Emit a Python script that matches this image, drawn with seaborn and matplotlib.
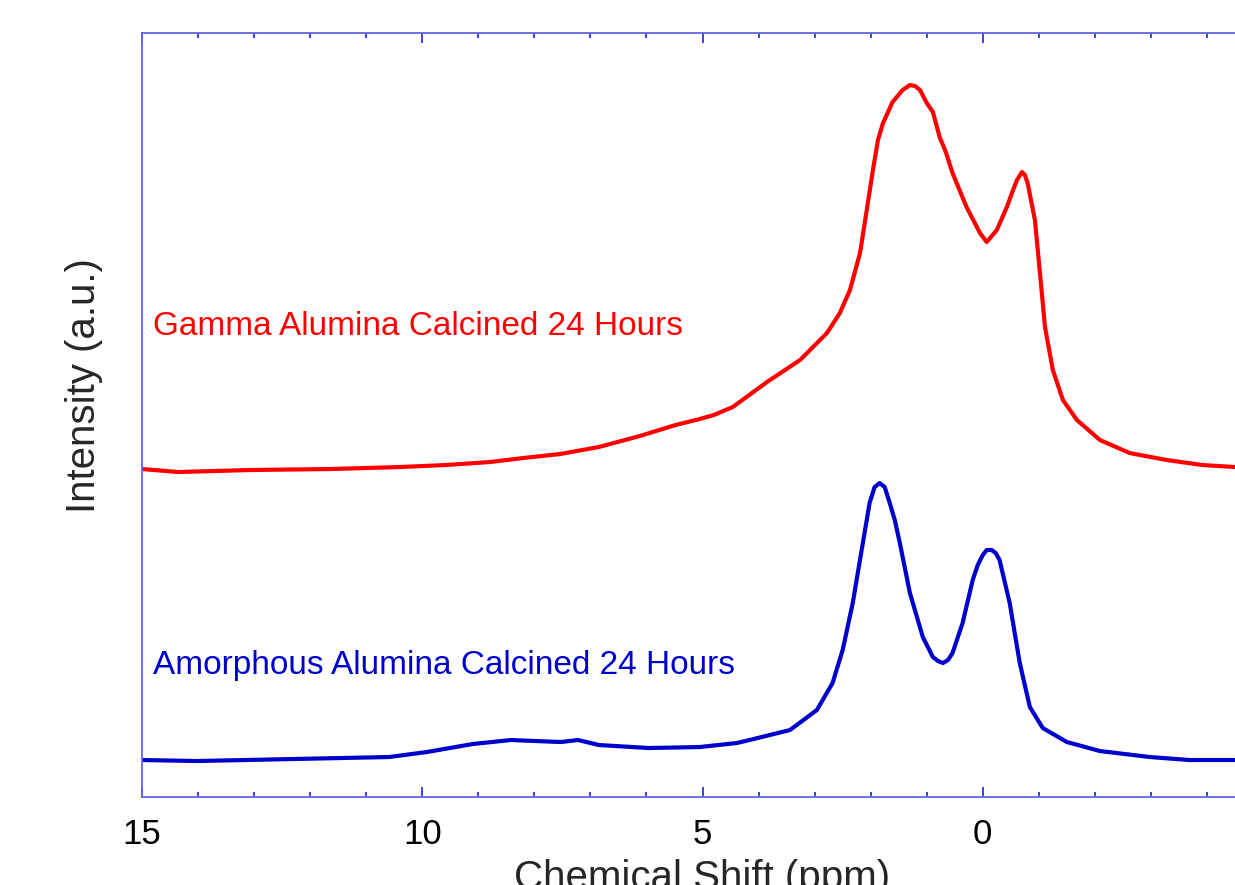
import matplotlib
matplotlib.use("Agg")
import matplotlib.pyplot as plt
from matplotlib.ticker import MultipleLocator
import seaborn as sns
import pandas as pd

# chemical shift (ppm) and intensity (a.u.)
gamma_ppm = [15.0, 14.36, 13.07, 11.63, 10.40, 9.58, 8.79, 8.20, 7.54, 6.85,
             6.12, 5.48, 5.05, 4.80, 4.46, 3.85, 3.26, 2.78, 2.55, 2.37,
             2.19, 2.07, 1.96, 1.87, 1.78, 1.69, 1.61, 1.43, 1.30, 1.21, 1.12,
             1.00, 0.89, 0.77, 0.66, 0.54,
             0.29, 0.05, -0.07, -0.25, -0.43, -0.52, -0.61, -0.70, -0.75, -0.80,
             -0.93, -1.02,
             -1.11, -1.25, -1.43, -1.68, -2.09, -2.62, -3.28, -3.92, -4.49]
gamma_int = [328, 325, 327, 328, 330, 332, 335, 339, 343, 350,
             361, 372, 378, 382, 390, 415, 437, 464, 484, 507,
             544, 587, 627, 657, 674, 685, 695, 707, 712, 711, 707,
             694, 685, 660, 645, 624,
             590, 564, 555, 567, 590, 604, 617, 625, 622, 614,
             577, 524,
             470, 427, 397, 377, 357, 344, 337, 332, 330]

amorph_ppm = [15.0, 14.02, 12.31, 10.59, 9.92, 9.10, 8.42, 7.53, 7.22, 6.85,
              5.96, 5.05, 4.39, 4.16, 3.44, 2.96, 2.68, 2.50, 2.32, 2.14,
              2.07, 2.02, 1.93, 1.84, 1.75, 1.66, 1.57, 1.48, 1.30, 1.07,
              0.89, 0.80, 0.71, 0.62, 0.54, 0.36,
              0.18, 0.09, 0.00, -0.07, -0.16, -0.23, -0.30, -0.48, -0.66,
              -0.84, -1.07, -1.50, -2.09,
              -2.98, -3.69, -4.49]
amorph_int = [37, 36, 38, 40, 45, 53, 57, 55, 57, 52,
              49, 50, 54, 57, 67, 87, 114, 147, 194, 254,
              277, 294, 310, 314, 310, 294, 277, 254, 204, 160,
              140, 136, 134, 137, 144, 174,
              217, 232, 242, 247, 247, 244, 237, 194, 134,
              90, 69, 55, 46,
              40, 37, 37]

gamma_label = "Gamma Alumina Calcined 24 Hours"
amorph_label = "Amorphous Alumina Calcined 24 Hours"
xticks = [15, 10, 5, 0]

sns.set_style("white")
plt.rcParams["font.family"] = ["Liberation Sans", "DejaVu Sans"]

red = "#ff0000"
blue = "#0000cc"
spine_col = "#6464e6"

df_g = pd.DataFrame({"ppm": gamma_ppm, "intensity": gamma_int})
df_a = pd.DataFrame({"ppm": amorph_ppm, "intensity": amorph_int})

fig = plt.figure(figsize=(12.35, 8.85), dpi=100)
ax = fig.add_axes([0.115, 0.0994, 0.9077, 0.8633])

sns.lineplot(data=df_g, x="ppm", y="intensity", sort=False, color=red,
             linewidth=3.0, solid_joinstyle="round", ax=ax)
sns.lineplot(data=df_a, x="ppm", y="intensity", sort=False, color=blue,
             linewidth=3.0, solid_joinstyle="round", ax=ax)

ax.set_xlim(15, -5)
ax.set_ylim(0, 764)
ax.set_xticks(xticks)
ax.xaxis.set_minor_locator(MultipleLocator(1))
ax.set_yticks([])

ax.tick_params(axis="x", which="both", direction="in", top=True, bottom=True,
               colors="#2020e0", labelcolor="black", labelsize=25, pad=15)
ax.tick_params(axis="x", which="major", length=7.2, width=1.2)
ax.tick_params(axis="x", which="minor", length=3.6, width=1.2)

for s in ax.spines.values():
    s.set_color(spine_col)
    s.set_linewidth(1.3)

# label sits low, partly past the bottom edge, as in the original
ax.set_xlabel("Chemical Shift (ppm)", fontsize=29, labelpad=6)
ax.set_ylabel("Intensity (a.u.)", fontsize=29)
ax.yaxis.set_label_coords(-0.0345, 0.539)

ax.text(14.80, 471, gamma_label, color=red, fontsize=24, ha="left", va="center")
ax.text(14.80, 132, amorph_label, color=blue, fontsize=24, ha="left", va="center")

plt.savefig("out.png", dpi=100)
plt.close()
